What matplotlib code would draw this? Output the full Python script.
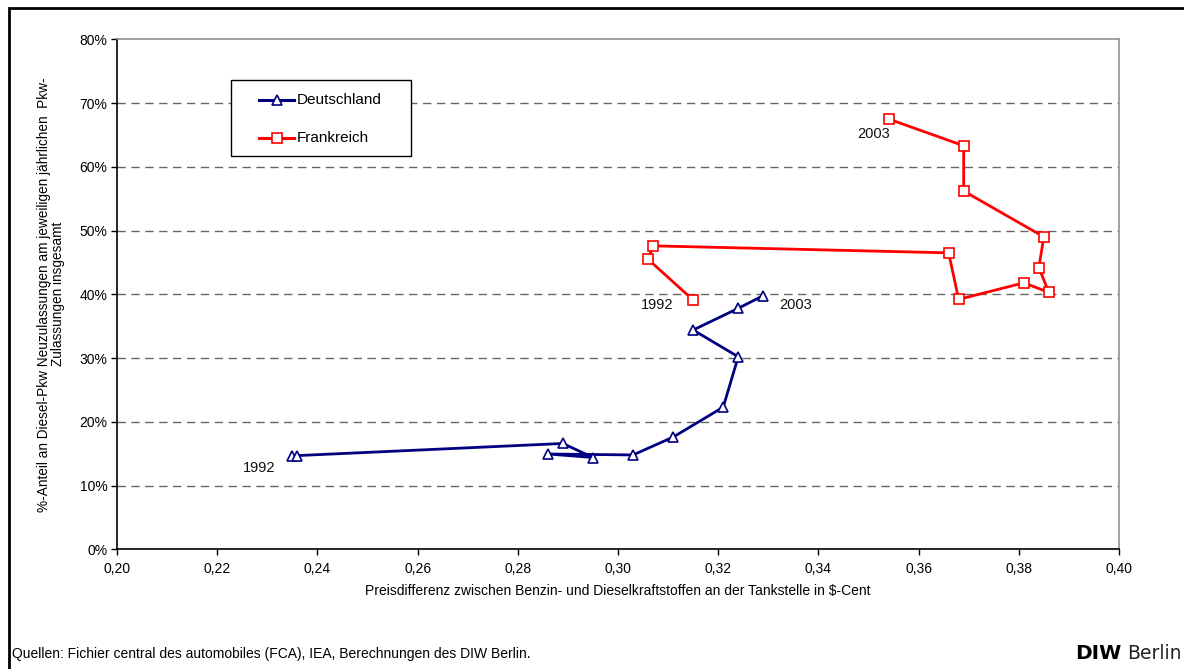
import numpy as np
import matplotlib
matplotlib.use("Agg")
import matplotlib.pyplot as plt
from matplotlib.lines import Line2D
from matplotlib.ticker import FuncFormatter, MultipleLocator

plt.rcParams['font.family'] = ['Liberation Sans', 'DejaVu Sans']

# Daten, 1992 bis 2003
jahre = list(range(1992, 2004))

de_preisdiff = [0.235, 0.236, 0.289, 0.295, 0.286, 0.303, 0.311, 0.321, 0.324, 0.315, 0.324, 0.329]
de_anteil = [14.6, 14.7, 16.6, 14.4, 14.95, 14.8, 17.6, 22.3, 30.2, 34.4, 37.8, 39.8]

fr_preisdiff = [0.315, 0.306, 0.307, 0.366, 0.368, 0.381, 0.386, 0.384, 0.385, 0.369, 0.369, 0.354]
fr_anteil = [39.1, 45.5, 47.6, 46.5, 39.2, 41.8, 40.3, 44.2, 49.0, 56.2, 63.3, 67.5]

labels = ['Deutschland', 'Frankreich']
farben = ['#000080', '#FF0000']
marker = ['^', 's']

# Jahresbeschriftungen (Position in Datenkoordinaten)
jahr_text = ['1992', '2003', '1992', '2003']
jahr_x = [0.2283, 0.3355, 0.3079, 0.3510]
jahr_y = [12.8, 38.3, 38.3, 65.1]

W, H = 1184, 669
fig = plt.figure(figsize=(W / 100, H / 100), dpi=100)
ax = fig.add_axes([117 / W, 1 - 549.3 / H, (1119 - 117) / W, (549.3 - 39.3) / H])

serien = [(de_preisdiff, de_anteil), (fr_preisdiff, fr_anteil)]
for (xs, ys), lab, c, m in zip(serien, labels, farben, marker):
    ax.plot(xs, ys, color=c, lw=2.0, marker=m, ms=7, mfc='white', mec=c, mew=1.2,
            label=lab, zorder=3)

for t, x, y in zip(jahr_text, jahr_x, jahr_y):
    ax.text(x, y, t, ha='center', va='center', fontsize=10.5, color='#111111')

ax.set_xlim(0.20, 0.40)
ax.set_ylim(0, 80)
ax.xaxis.set_major_locator(MultipleLocator(0.02))
ax.yaxis.set_major_locator(MultipleLocator(10))
ax.xaxis.set_major_formatter(FuncFormatter(lambda v, p: f"{v:.2f}".replace('.', ',')))
ax.yaxis.set_major_formatter(FuncFormatter(lambda v, p: f"{v:.0f}%"))
ax.tick_params(direction='out', length=4, width=1, labelsize=10, colors='black')
ax.tick_params(axis='x', pad=5)
ax.tick_params(axis='y', pad=3)

for y in range(10, 80, 10):
    ax.axhline(y, color='#666666', lw=1.0, dashes=(6, 4), zorder=1)

ax.spines['left'].set_color('black')
ax.spines['bottom'].set_color('black')
ax.spines['top'].set_color('#909090')
ax.spines['right'].set_color('#909090')
for s in ax.spines.values():
    s.set_linewidth(1.2)

ax.set_xlabel('Preisdifferenz zwischen Benzin- und Dieselkraftstoffen an der Tankstelle in $-Cent',
              fontsize=10, labelpad=6)
ax.set_ylabel('%-Anteil an Diesel-Pkw Neuzulassungen am jeweiligen jährlichen  Pkw-\nZulassungen insgesamt',
              fontsize=9.8, labelpad=10, linespacing=1.05)

# Legende (Rahmen, Linien mit Marker, Text) in Pixelkoordinaten der Figur
fig.add_artist(plt.Rectangle((231 / W, 1 - 156 / H), 180 / W, 76 / H, transform=fig.transFigure,
                             facecolor='white', edgecolor='black', lw=1.0, zorder=5))
for i, (lab, c, m) in enumerate(zip(labels, farben, marker)):
    yy = 1 - (100 + 37.5 * i) / H
    fig.add_artist(Line2D([259 / W, 294 / W], [yy, yy], transform=fig.transFigure, color=c,
                          lw=2.2, zorder=6))
    fig.add_artist(Line2D([276.5 / W], [yy], transform=fig.transFigure, marker=m, ms=7,
                          mfc='white', mec=c, mew=1.2, zorder=7))
    fig.text(297 / W, yy, lab, fontsize=11, va='center', ha='left', zorder=7)

# Rahmen um die gesamte Grafik (nur oben und links sichtbar)
fig.add_artist(plt.Rectangle((9 / W, -0.05), 1.2, 1 - 8 / H + 0.05, transform=fig.transFigure,
                             fill=False, edgecolor='black', lw=2.0))

fig.text(12 / W, 1 - 658 / H, 'Quellen: Fichier central des automobiles (FCA), IEA, Berechnungen des DIW Berlin.',
         fontsize=10, va='baseline', ha='left')
fig.text(1075 / W, 1 - 659 / H, 'DIW', fontsize=14.5, fontweight='bold', family='DejaVu Sans',
         va='baseline', ha='left')
fig.text(1127 / W, 1 - 659 / H, 'Berlin', fontsize=13.5, family='DejaVu Sans', va='baseline',
         ha='left', color='#222222')

fig.savefig('out.png', dpi=100)
